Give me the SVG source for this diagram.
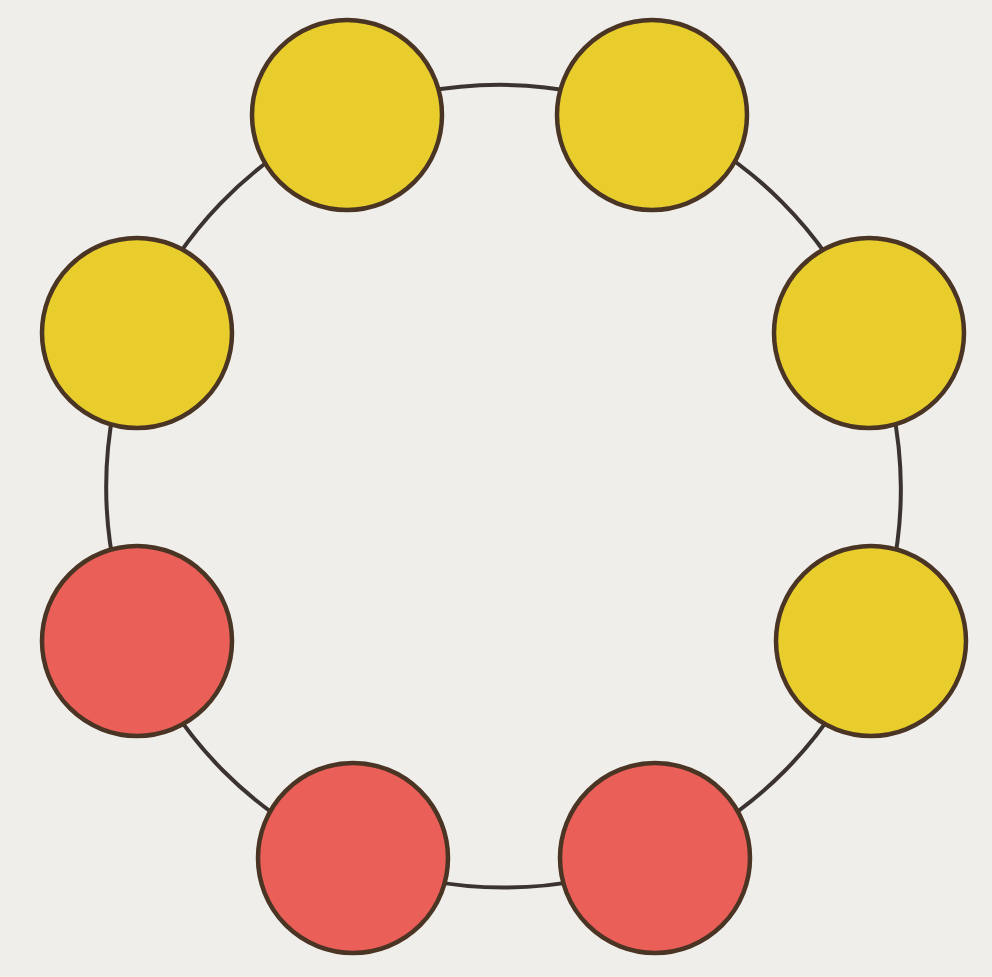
<svg xmlns="http://www.w3.org/2000/svg" width="992" height="977" viewBox="0 0 992 977">
<style>
.bg{fill:#efeeea}
.ring{fill:none;stroke:#3b3330;stroke-width:4}
.node{stroke:#4a3424;stroke-width:4.5}
.y{fill:#e8cd2c}
.r{fill:#ea5f57}
</style>
<rect class="bg" x="0" y="0" width="992" height="977"/>
<g id="connectors">
<path class="ring" d="M347,115 A400,400 0 0 1 652,115"/>
<path class="ring" d="M652,115 A400,400 0 0 1 869,333"/>
<path class="ring" d="M869,333 A400,400 0 0 1 871,641"/>
<path class="ring" d="M871,641 A400,400 0 0 1 655,858"/>
<path class="ring" d="M655,858 A400,400 0 0 1 353,858"/>
<path class="ring" d="M353,858 A400,400 0 0 1 137,641"/>
<path class="ring" d="M137,641 A400,400 0 0 1 137,333"/>
<path class="ring" d="M137,333 A400,400 0 0 1 347,115"/>
</g>
<g id="node-top-left"><circle class="node y" cx="347" cy="115" r="95"/></g>
<g id="node-top-right"><circle class="node y" cx="652" cy="115" r="95"/></g>
<g id="node-left-upper"><circle class="node y" cx="137" cy="333" r="95"/></g>
<g id="node-right-upper"><circle class="node y" cx="869" cy="333" r="95"/></g>
<g id="node-left-lower"><circle class="node r" cx="137" cy="641" r="95"/></g>
<g id="node-right-lower"><circle class="node y" cx="871" cy="641" r="95"/></g>
<g id="node-bottom-left"><circle class="node r" cx="353" cy="858" r="95"/></g>
<g id="node-bottom-right"><circle class="node r" cx="655" cy="858" r="95"/></g>
</svg>
